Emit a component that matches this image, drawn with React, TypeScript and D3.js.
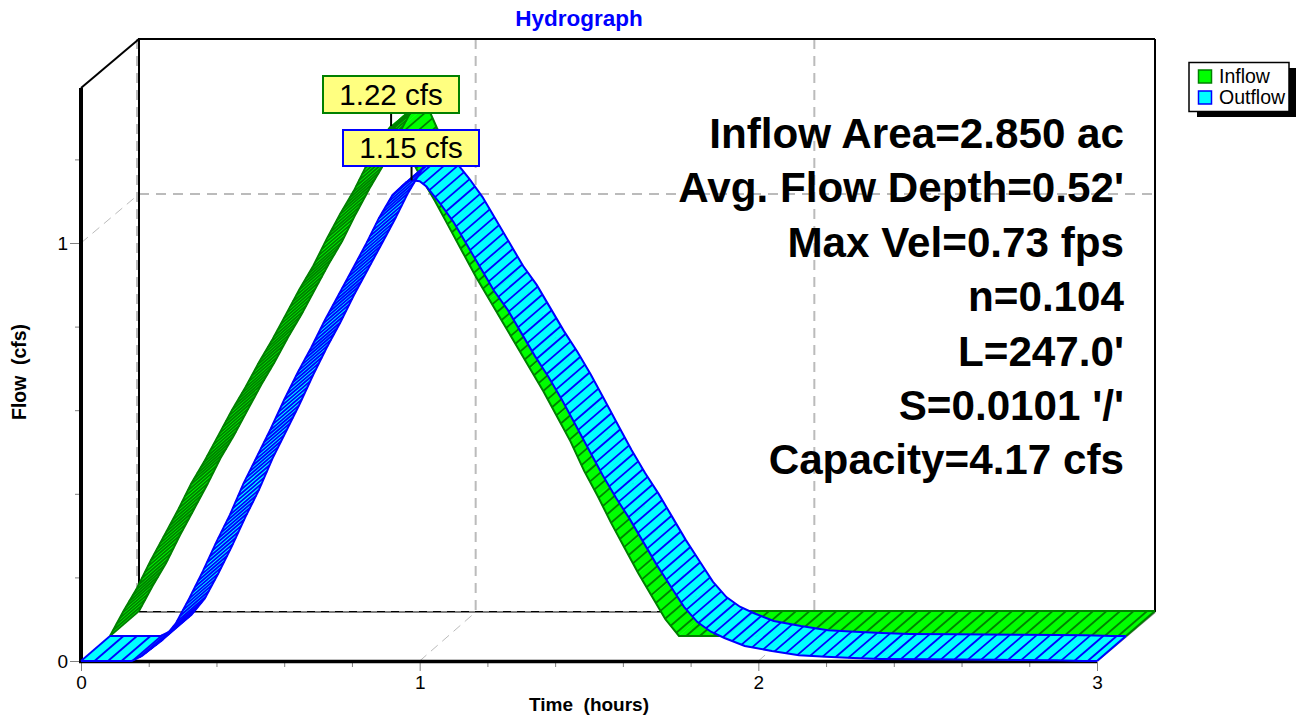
import React, { useEffect, useRef } from 'react';
import * as d3 from 'd3';

// values
const inflowTime = [0, 0.04, 0.08, 0.12, 0.16, 0.2, 0.24, 0.28, 0.32, 0.36, 0.4, 0.44, 0.48, 0.52, 0.56, 0.6, 0.64, 0.68, 0.72, 0.76, 0.8, 0.83, 0.85, 0.88, 0.92, 0.96, 1, 1.04, 1.08, 1.12, 1.16, 1.2, 1.24, 1.28, 1.32, 1.36, 1.4, 1.44, 1.48, 1.52, 1.56, 1.6, 1.64, 1.68, 3];
const inflowFlow = [0, 0.06, 0.115, 0.18, 0.24, 0.3, 0.365, 0.42, 0.48, 0.54, 0.595, 0.655, 0.71, 0.77, 0.83, 0.885, 0.95, 1.01, 1.065, 1.13, 1.19, 1.22, 1.21, 1.155, 1.095, 1.04, 0.98, 0.92, 0.86, 0.805, 0.75, 0.695, 0.64, 0.585, 0.525, 0.465, 0.395, 0.335, 0.27, 0.21, 0.15, 0.095, 0.04, 0, 0];
const outflowTime = [0, 0.15, 0.18, 0.2, 0.24, 0.28, 0.32, 0.36, 0.4, 0.44, 0.48, 0.52, 0.56, 0.6, 0.64, 0.68, 0.72, 0.76, 0.8, 0.84, 0.88, 0.92, 0.96, 0.976, 1, 1.02, 1.06, 1.1, 1.14, 1.18, 1.22, 1.26, 1.3, 1.34, 1.38, 1.42, 1.46, 1.5, 1.54, 1.58, 1.62, 1.66, 1.7, 1.74, 1.78, 1.82, 1.86, 1.9, 1.96, 2.04, 2.12, 2.2, 2.28, 2.36, 2.5, 2.7, 2.88, 2.96, 3];
const outflowFlow = [0, 0, 0.012, 0.025, 0.05, 0.09, 0.15, 0.215, 0.285, 0.35, 0.425, 0.49, 0.555, 0.625, 0.69, 0.75, 0.815, 0.875, 0.935, 0.995, 1.06, 1.115, 1.145, 1.15, 1.148, 1.135, 1.095, 1.05, 0.995, 0.94, 0.885, 0.84, 0.785, 0.73, 0.68, 0.625, 0.565, 0.505, 0.445, 0.39, 0.34, 0.285, 0.23, 0.18, 0.13, 0.093, 0.07, 0.055, 0.036, 0.024, 0.014, 0.01, 0.007, 0.005, 0.004, 0.003, 0.002, 0, 0];

const xMajor = [0, 1, 2, 3];
const xMinor = [0.2, 0.4, 0.6, 0.8, 1.2, 1.4, 1.6, 1.8, 2.2, 2.4, 2.6, 2.8];
const yMajor = [0, 1];
const yMinor = [0.2, 0.4, 0.6, 0.8, 1.2];

const noteLines = ['Inflow Area=2.850 ac', "Avg. Flow Depth=0.52'", 'Max Vel=0.73 fps', 'n=0.104', "L=247.0'", "S=0.0101 '/'", 'Capacity=4.17 cfs'];
const legendNames = ['Inflow', 'Outflow'];
const peakLabels = ['1.22 cfs', '1.15 cfs'];

const FONT = '"Liberation Sans", Arial, sans-serif';
const GREEN = '#00ff00';
const DKGREEN = '#008000';
const CYAN = '#00ffff';
const BLUE = '#0000ff';
const YELLOW = '#ffff80';
const GRID = '#bbbbbb';

const depth = { x: 58, y: -49 }; // full depth of the 3d box
const midDepth = { x: 29, y: -25 }; // depth of one ribbon

const App = () => {
  const svgRef = useRef<SVGSVGElement>(null);

  useEffect(() => {
    const svg = d3.select(svgRef.current);
    svg.selectAll('*').remove();

    const x = d3.scaleLinear().domain([0, 3]).range([81, 1097]);
    const y = d3.scaleLinear().domain([0, 1]).range([661, 243]);
    const x0 = x(0), x3 = x(3), y0 = y(0), yTop = 88;
    const line = d3.line();

    const seg = (x1, y1, x2, y2, stroke, width, dash?) =>
      svg.append('line')
        .attr('x1', x1).attr('y1', y1).attr('x2', x2).attr('y2', y2)
        .attr('stroke', stroke).attr('stroke-width', width)
        .attr('stroke-dasharray', dash || null);

    // back wall grid
    [1, 2].forEach(t => {
      seg(x(t) + 56, yTop + depth.y, x(t) + 56, y0 + depth.y, GRID, 2, '10 7');
      seg(x(t), y0, x(t) + 56, y0 + depth.y, GRID, 1, '9 6');
    });
    seg(x0 + depth.x, y(1) + depth.y, x3 + depth.x, y(1) + depth.y, GRID, 2, '10 7');
    seg(x0, y(1), x0 + depth.x, y(1) + depth.y, GRID, 1, '9 6');

    // box
    seg(x0 + depth.x - 2, yTop + depth.y, x0 + depth.x - 2, y0 + depth.y, GRID, 2, '10 7');
    seg(x0 + depth.x, yTop + depth.y - 1, x0 + depth.x, y0 + depth.y, '#000', 2);
    seg(x0 + depth.x, yTop + depth.y, x3 + depth.x, yTop + depth.y, '#000', 2);
    seg(x3 + depth.x, yTop + depth.y, x3 + depth.x, y0 + depth.y, '#000', 2);
    seg(x0 + depth.x, y0 + depth.y, x3 + depth.x, y0 + depth.y, '#808080', 2);
    seg(x0 + depth.x, y0 + depth.y - 0.5, x3 + depth.x, y0 + depth.y - 0.5, '#000', 1, '8 6');
    seg(x0, yTop, x0 + depth.x, yTop + depth.y, '#000', 2);
    seg(x3, y0, x3 + depth.x, y0 + depth.y, '#808080', 2);

    // axes, ticks in gray
    const styleAxis = g => {
      g.select('.domain').remove();
      g.selectAll('line').attr('stroke', '#808080').attr('stroke-width', 1);
      g.selectAll('text').attr('fill', '#000').style('font-family', FONT).style('font-size', '19px');
    };
    svg.append('g').attr('transform', `translate(0,${y0 + 1})`)
      .call(d3.axisBottom(x).tickValues(xMajor).tickSize(9).tickPadding(5).tickFormat(d3.format('d')))
      .call(styleAxis);
    svg.append('g').attr('transform', `translate(0,${y0 + 1})`)
      .call(d3.axisBottom(x).tickValues(xMinor).tickSize(5).tickFormat(() => ''))
      .call(styleAxis);
    svg.append('g').attr('transform', `translate(${x0},0)`)
      .call(d3.axisLeft(y).tickValues(yMajor).tickSize(11).tickPadding(2).tickFormat(d3.format('d')))
      .call(styleAxis);
    svg.append('g').attr('transform', `translate(${x0},0)`)
      .call(d3.axisLeft(y).tickValues(yMinor).tickSize(6).tickFormat(() => ''))
      .call(styleAxis);

    seg(x0, yTop, x0, y0 + 2, '#000', 4);
    seg(x0 - 2, y0 + 0.5, x3, y0 + 0.5, '#000', 3.5);

    // one ribbon: filled quads, depth hatch along the curve, then both edges
    const ribbon = (times, flows, offset, fill, stroke) => {
      const front = times.map((t, i) => [x(t) + offset.x, y(flows[i]) + offset.y]);
      const back = front.map(p => [p[0] + midDepth.x, p[1] + midDepth.y]);
      const g = svg.append('g');

      d3.pairs(d3.range(front.length)).forEach(([a, b]) => {
        g.append('path')
          .attr('d', line([front[a], front[b], back[b], back[a]]) + 'Z')
          .attr('fill', fill).attr('stroke', fill).attr('stroke-width', 0.5);
      });

      // hatch spacing follows the curve, tighter on the rising side
      let acc = 0;
      const hatch = [front[0]];
      d3.pairs(front).forEach(([p, q]) => {
        const rising = q[1] < p[1];
        const cost = (Math.abs(q[0] - p[0]) / 13.5 + Math.abs(q[1] - p[1]) / 12) * (rising ? 1.4 : 1);
        let at = 1 - acc;
        while (at <= cost) {
          const f = at / cost;
          hatch.push([p[0] + (q[0] - p[0]) * f, p[1] + (q[1] - p[1]) * f]);
          at += 1;
        }
        acc = cost - (at - 1);
      });
      g.selectAll('line').data(hatch).join('line')
        .attr('x1', d => d[0]).attr('y1', d => d[1])
        .attr('x2', d => d[0] + midDepth.x).attr('y2', d => d[1] + midDepth.y)
        .attr('stroke', stroke).attr('stroke-width', 1.8);

      [front, back].forEach(edge => {
        g.append('path').attr('d', line(edge)).attr('fill', 'none')
          .attr('stroke', stroke).attr('stroke-width', 2);
      });
      seg(back[back.length - 1][0], back[back.length - 1][1], front[front.length - 1][0], front[front.length - 1][1], stroke, 2);
    };

    ribbon(inflowTime, inflowFlow, midDepth, GREEN, DKGREEN);
    ribbon(outflowTime, outflowFlow, { x: 0, y: 0 }, CYAN, BLUE);

    // peak callouts
    const inflowPeak = inflowFlow.indexOf(d3.max(inflowFlow));
    const outflowPeak = outflowFlow.indexOf(d3.max(outflowFlow));
    const callout = (px, py, bx, by, bw, bh, stroke, label) => {
      seg(px, py, px, by + bh, '#000', 2);
      svg.append('rect').attr('x', bx).attr('y', by).attr('width', bw).attr('height', bh)
        .attr('fill', YELLOW).attr('stroke', stroke).attr('stroke-width', 2);
      svg.append('text').attr('x', bx + bw / 2).attr('y', by + bh / 2 + 10)
        .attr('text-anchor', 'middle').style('font-family', FONT).style('font-size', '29.5px')
        .text(label);
    };
    callout(x(inflowTime[inflowPeak]) + midDepth.x, y(inflowFlow[inflowPeak]) + midDepth.y, 323, 76, 136, 37, DKGREEN, peakLabels[0]);
    callout(x(outflowTime[outflowPeak]), y(outflowFlow[outflowPeak]), 343, 130, 136, 36, BLUE, peakLabels[1]);

    // notes
    svg.append('g').selectAll('text').data(noteLines).join('text')
      .attr('x', 1124).attr('y', (d, i) => 148 + i * 54.4)
      .attr('text-anchor', 'end')
      .style('font-family', FONT).style('font-weight', 'bold').style('font-size', '42.2px')
      .text(d => d);

    // titles
    const label = (tx, ty, text, size, fill, rotate?) =>
      svg.append('text').attr('transform', `translate(${tx},${ty})${rotate ? ' rotate(-90)' : ''}`)
        .attr('text-anchor', 'middle')
        .style('white-space', 'pre')
        .style('font-family', FONT).style('font-weight', 'bold').style('font-size', size)
        .attr('fill', fill).text(text);
    label(579, 26, 'Hydrograph', '22.5px', BLUE);
    label(589, 711, 'Time  (hours)', '19px', '#000');
    label(26, 372, 'Flow  (cfs)', '19.4px', '#000', true);

    // legend
    svg.append('rect').attr('x', 1197).attr('y', 68).attr('width', 99).attr('height', 49).attr('fill', '#000');
    svg.append('rect').attr('x', 1189).attr('y', 62.5).attr('width', 100).attr('height', 49)
      .attr('fill', '#fff').attr('stroke', '#000').attr('stroke-width', 1.5);
    legendNames.forEach((name, i) => {
      svg.append('rect').attr('x', 1198.5).attr('y', 70 + i * 21).attr('width', 13).attr('height', 13)
        .attr('fill', i ? CYAN : GREEN).attr('stroke', i ? BLUE : DKGREEN).attr('stroke-width', 1.5);
      svg.append('text').attr('x', 1219).attr('y', 83 + i * 21)
        .style('font-family', FONT).style('font-size', '19.5px').text(name);
    });
  }, []);

  return <svg ref={svgRef} width={1296} height={717} style={{ position: 'absolute', left: 0, top: 0 }} />;
};

export default App;
